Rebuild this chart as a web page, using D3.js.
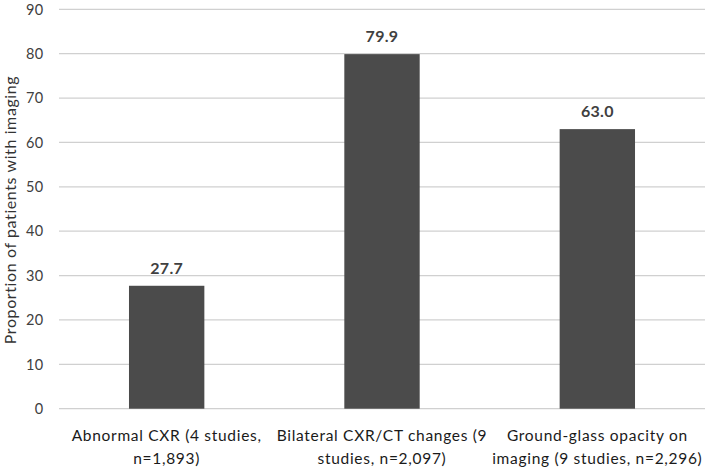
<!DOCTYPE html>
<html><head><meta charset="utf-8">
<script src="https://cdn.jsdelivr.net/npm/d3@7"></script>
<style>body{margin:0;background:#fff}svg{display:block}text{font-family:Lato,"Open Sans",sans-serif}</style>
</head><body><svg id="c" width="709" height="470"></svg>
<script>
const categories = ["Abnormal CXR (4 studies, n=1,893)","Bilateral CXR/CT changes (9 studies, n=2,097)","Ground-glass opacity on imaging (9 studies, n=2,296)"];
const categoryLines = [["Abnormal CXR (4 studies,","n=1,893)"],["Bilateral CXR/CT changes (9","studies, n=2,097)"],["Ground-glass opacity on","imaging (9 studies, n=2,296)"]];
const values = [27.7, 79.9, 63.0];
const valueLabels = ["27.7","79.9","63.0"];
const yTicks = [0,10,20,30,40,50,60,70,80,90];
const yTitle = "Proportion of patients with imaging";

const svg = d3.select("#c");
const L = 59, R = 705, T = 9.3, B = 408.7;
const x = d3.scaleBand().domain(categories).range([L, R]).padding(0);
const y = d3.scaleLinear().domain([0, 90]).range([B, T]);
const bw = x.bandwidth() * 0.35;

svg.append("g").selectAll("line").data(yTicks).join("line")
  .attr("x1", L).attr("x2", R).attr("y1", d => y(d)).attr("y2", d => y(d))
  .attr("stroke", "#d0d0d0").attr("stroke-width", 1.3);

svg.append("g").selectAll("text").data(yTicks).join("text")
  .attr("x", 43.5).attr("y", d => y(d)).attr("dy", "0.36em").attr("text-anchor", "end")
  .attr("font-size", 14.5).attr("letter-spacing", 0.3).attr("fill", "#404040").text(d => d);

svg.append("g").selectAll("rect").data(values).join("rect")
  .attr("x", (d, i) => x(categories[i]) + x.bandwidth() / 2 - bw / 2)
  .attr("width", bw)
  .attr("y", d => y(d)).attr("height", d => y(0) - y(d))
  .attr("fill", "#4b4b4b");

svg.append("g").selectAll("text").data(values).join("text")
  .attr("x", (d, i) => x(categories[i]) + x.bandwidth() / 2)
  .attr("y", d => y(d) - 12).attr("text-anchor", "middle")
  .attr("font-size", 16).attr("letter-spacing", 0.3).attr("font-weight", "bold").attr("fill", "#404040")
  .text((d, i) => valueLabels[i]);

const cl = svg.append("g").selectAll("text").data(categories).join("text")
  .attr("text-anchor", "middle").attr("font-size", 15.5).attr("letter-spacing", 0.7).attr("fill", "#1a1a1a");
cl.each(function(d, i) {
  const t = d3.select(this);
  categoryLines[i].forEach((ln, j) => {
    t.append("tspan").attr("x", x(d) + x.bandwidth() / 2).attr("y", 441 + j * 22.5).text(ln);
  });
});

svg.append("text").attr("transform", `translate(16,${(T + B) / 2 + 1}) rotate(-90)`)
  .attr("text-anchor", "middle").attr("font-size", 16).attr("letter-spacing", 0.6).attr("fill", "#333").text(yTitle);
</script></body></html>
